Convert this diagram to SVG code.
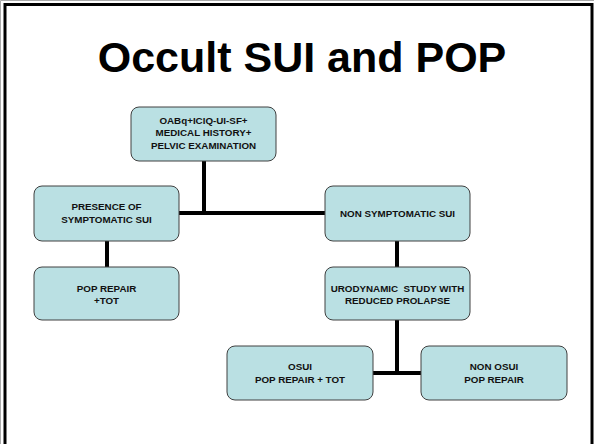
<svg xmlns="http://www.w3.org/2000/svg" width="594" height="444" viewBox="0 0 594 444">
<style>
.node rect{fill:#BAE0E3;stroke:#404040;stroke-width:1}
.node text{font-family:"Liberation Sans",Arial,sans-serif;font-weight:bold;font-size:9.8px;fill:#111;text-anchor:middle;white-space:pre}
.conn path{stroke:#000;stroke-width:4;fill:none}
.title{font-family:"Liberation Sans",Arial,sans-serif;font-weight:bold;font-size:43px;fill:#000;text-anchor:middle}
</style>
<rect x="0" y="0" width="594" height="444" fill="#fff"/>
<path d="M0.5 444 V0.5 H594" stroke="#aaa" stroke-width="1" fill="none"/>
<rect x="5" y="4.5" width="587" height="442" fill="none" stroke="#000" stroke-width="3"/>
<text class="title" x="302" y="72">Occult SUI and POP</text>
<g class="conn" id="connectors">
<path d="M204 161 V213"/>
<path d="M179 213 H325"/>
<path d="M107 241 V267"/>
<path d="M397 241 V267"/>
<path d="M397 320 V373"/>
<path d="M373 373 H421"/>
</g>
<g class="node" id="n-top">
<rect x="131" y="107" width="145" height="54" rx="8"/>
<text x="203.5" y="123.5">OABq+ICIQ-UI-SF+</text>
<text x="203.5" y="136">MEDICAL HISTORY+</text>
<text x="203.5" y="148.5">PELVIC EXAMINATION</text>
</g>
<g class="node" id="n-presence">
<rect x="34" y="186" width="145" height="55" rx="8"/>
<text x="106.5" y="210">PRESENCE OF</text>
<text x="106.5" y="222.5">SYMPTOMATIC SUI</text>
</g>
<g class="node" id="n-nonsym">
<rect x="325" y="186" width="145" height="55" rx="8"/>
<text x="397.5" y="217">NON SYMPTOMATIC SUI</text>
</g>
<g class="node" id="n-popTot">
<rect x="34" y="267" width="145" height="53" rx="8"/>
<text x="106.5" y="291.5">POP REPAIR</text>
<text x="106.5" y="304">+TOT</text>
</g>
<g class="node" id="n-uro">
<rect x="325" y="267" width="145" height="53" rx="8"/>
<text x="397.5" y="291.5">URODYNAMIC  STUDY WITH</text>
<text x="397.5" y="304">REDUCED PROLAPSE</text>
</g>
<g class="node" id="n-osui">
<rect x="227" y="346" width="146" height="54" rx="8"/>
<text x="300" y="370">OSUI</text>
<text x="300" y="382.5">POP REPAIR + TOT</text>
</g>
<g class="node" id="n-nonosui">
<rect x="421" y="346" width="146" height="54" rx="8"/>
<text x="494" y="370">NON OSUI</text>
<text x="494" y="382.5">POP REPAIR</text>
</g>
</svg>
